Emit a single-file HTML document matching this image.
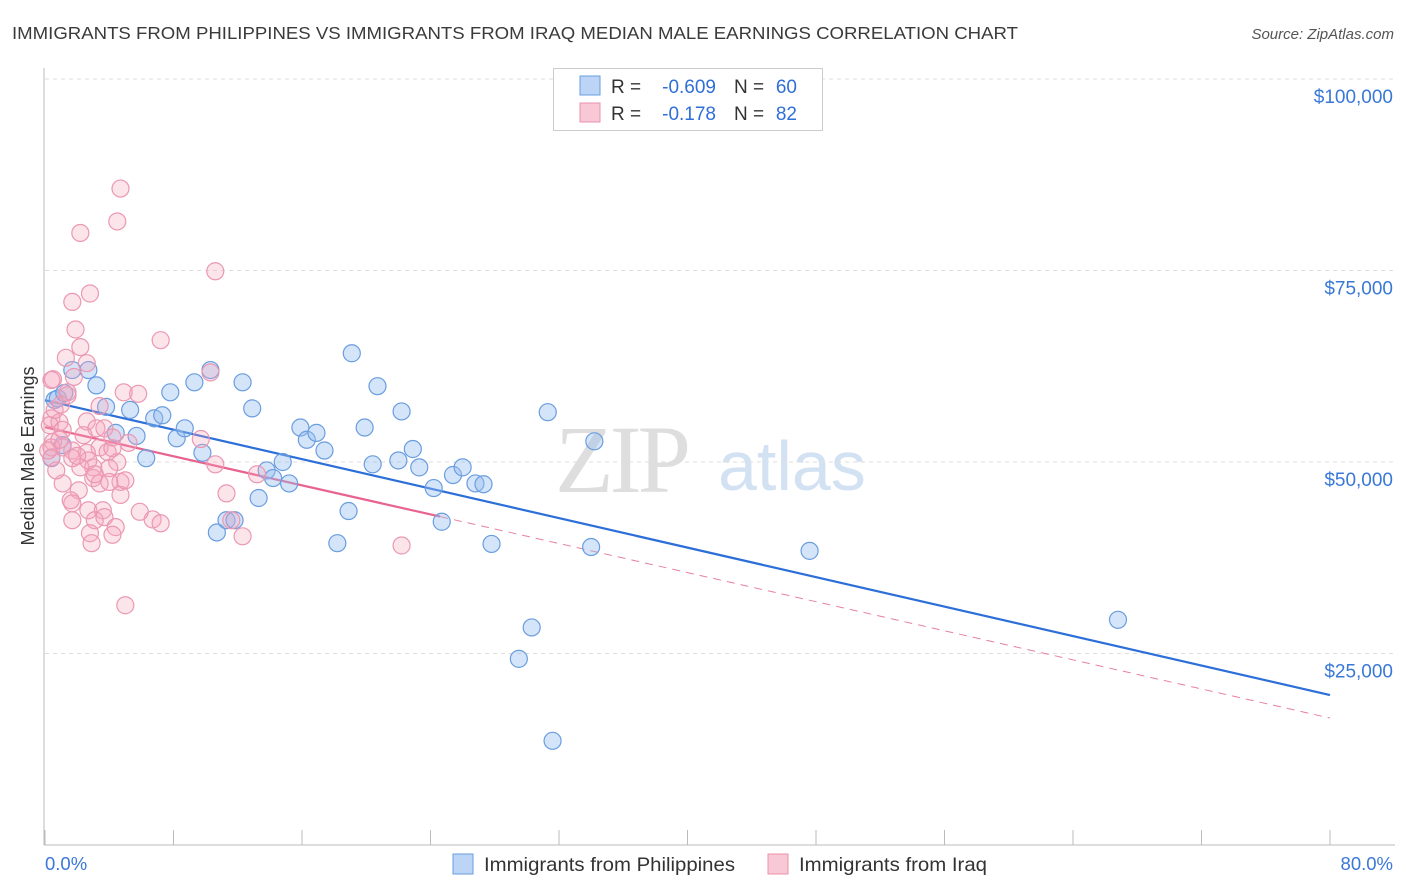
<!DOCTYPE html>
<html><head><meta charset="utf-8">
<style>
body{margin:0;background:#fff;font-family:"Liberation Sans",sans-serif;}
#wrap{position:relative;width:1406px;height:892px;overflow:hidden;}
</style></head>
<body><div id="wrap">
<svg id="svg" width="1406" height="892" xmlns="http://www.w3.org/2000/svg" font-family="Liberation Sans, sans-serif">
<text x="12" y="39" font-size="17.5" fill="#3a3a3a" textLength="1006" lengthAdjust="spacingAndGlyphs">IMMIGRANTS FROM PHILIPPINES VS IMMIGRANTS FROM IRAQ MEDIAN MALE EARNINGS CORRELATION CHART</text>
<text x="1394" y="39" font-size="15" fill="#555" font-style="italic" text-anchor="end">Source: ZipAtlas.com</text>
<text x="0" y="0" font-size="18" fill="#333" transform="translate(34,456) rotate(-90)" text-anchor="middle">Median Male Earnings</text>
<g>
<text x="555" y="492" font-size="96" fill="#dedede" font-family="Liberation Serif, serif" letter-spacing="-4">ZIP</text>
<text x="718" y="490" font-size="70" fill="#d3e2f3">atlas</text>
</g>
<g id="grid"></g><g id="axes"></g><g id="trend"></g><g id="pts"></g>
<g>
<rect x="553.5" y="68.5" width="269" height="62" fill="#fff" stroke="#ccc"/>
<rect x="580" y="76" width="20" height="19" fill="#bcd4f5" stroke="#6a9de0"/>
<rect x="580" y="103" width="20" height="19" fill="#f9c8d6" stroke="#e890aa"/>
<text x="611" y="93" font-size="19" fill="#333">R =</text>
<text x="716" y="93" font-size="19" fill="#2f6fd6" text-anchor="end">-0.609</text>
<text x="734" y="93" font-size="19" fill="#333">N =</text>
<text x="797" y="93" font-size="19" fill="#2f6fd6" text-anchor="end">60</text>
<text x="611" y="120" font-size="19" fill="#333">R =</text>
<text x="716" y="120" font-size="19" fill="#2f6fd6" text-anchor="end">-0.178</text>
<text x="734" y="120" font-size="19" fill="#333">N =</text>
<text x="797" y="120" font-size="19" fill="#2f6fd6" text-anchor="end">82</text>
</g>
<g>
<rect x="453" y="854" width="20" height="20" fill="#bcd4f5" stroke="#6a9de0"/>
<text x="484" y="871" font-size="19.5" fill="#333" textLength="251" lengthAdjust="spacingAndGlyphs">Immigrants from Philippines</text>
<rect x="768" y="854" width="20" height="20" fill="#f9c8d6" stroke="#e890aa"/>
<text x="799" y="871" font-size="19.5" fill="#333" textLength="188" lengthAdjust="spacingAndGlyphs">Immigrants from Iraq</text>
</g>
<text x="45" y="870" font-size="18.5" fill="#3a78d8">0.0%</text>
<text x="1393" y="870" font-size="18.5" fill="#3a78d8" text-anchor="end">80.0%</text>
</svg></div>
<script>
const yTicks=[25000,50000,75000,100000];
const yTickLabels=["$25,000","$50,000","$75,000","$100,000"];
const blueX=[0.4,0.6,0.8,1.2,1.7,2.7,3.2,3.8,5.3,4.4,5.7,6.3,6.8,7.3,7.8,8.2,8.7,9.3,9.8,10.3,10.7,11.3,11.8,12.3,12.9,13.3,13.8,14.2,14.8,15.2,15.9,16.3,16.9,17.4,18.2,18.9,19.1,19.9,20.4,20.7,22.0,22.2,22.9,23.3,24.2,24.7,25.4,26.0,26.8,27.3,27.8,29.5,30.3,31.3,31.6,34.0,34.2,47.6,66.8,1.1];
const blueY=[50.5,58.1,58.3,59.0,62.0,62.0,60.0,57.2,56.8,53.8,53.4,50.5,55.7,56.1,59.1,53.1,54.4,60.4,51.2,62.0,40.8,42.4,42.4,60.4,57.0,45.3,48.9,47.9,50.0,47.2,54.5,52.9,53.8,51.5,39.4,43.6,64.2,54.5,49.7,59.9,50.2,56.6,51.7,49.3,46.6,42.2,48.3,49.3,47.2,47.1,39.3,24.3,28.4,56.5,13.6,38.9,52.7,38.4,29.4,52.2];
const pinkX=[4.7,4.5,2.2,10.6,2.8,1.7,1.9,2.2,7.2,1.3,2.6,0.5,1.8,10.3,4.9,5.8,3.4,2.6,3.2,3.7,0.4,0.9,9.7,5.2,0.5,1.1,1.7,3.4,3.9,2.6,10.6,4.5,0.4,3.0,2.2,4.0,13.2,1.7,1.1,3.0,4.7,3.4,4.0,2.1,1.7,4.7,11.3,2.7,3.6,1.7,3.1,3.7,6.7,7.2,4.4,2.8,4.2,2.9,12.3,11.6,5.0,0.4,0.4,0.6,0.3,1.1,0.7,1.6,2.7,3.1,4.2,22.2,5.0,1.4,0.9,1.4,0.2,2.4,4.2,5.9,1.0,2.0];
const pinkY=[85.7,81.4,79.9,74.9,72.0,70.9,67.3,65.0,65.9,63.6,62.9,60.8,61.1,61.7,59.1,58.9,57.3,55.3,54.4,54.4,55.7,55.2,53.0,52.5,52.6,51.9,51.5,51.9,51.3,51.2,49.7,50.0,50.6,49.3,49.3,49.2,48.4,50.5,47.2,47.9,47.4,47.2,47.4,46.3,44.6,45.7,45.9,43.7,43.7,42.4,42.4,42.8,42.5,42.0,41.5,40.7,40.5,39.4,40.3,42.4,31.3,51.9,60.7,56.8,54.8,54.2,48.9,45.0,50.2,48.4,51.8,39.1,47.6,58.7,52.9,59.1,51.5,53.5,53.2,43.5,57.5,50.8];
const blueTrend=[58073,19575];
const pinkTrend=[54550,16574];
const pinkSolidEnd=24.6;
const xTicks=[0,8,16,24,32,40,48,56,64,72,80];

const NS="http://www.w3.org/2000/svg";
const X=v=>45+v*(1285/80);
const Y=v=>845-v*(766/100000);
function mk(tag,attrs,parent){const e=document.createElementNS(NS,tag);for(const k in attrs)e.setAttribute(k,attrs[k]);document.getElementById(parent).appendChild(e);return e;}
yTicks.forEach((t,i)=>{
  const l=mk('line',{x1:45,x2:1395,y1:Y(t),y2:Y(t),stroke:'#ddd','stroke-dasharray':'4,4'},'grid');
  
  
  const tx=mk('text',{x:1393,y:Y(t)+24,'font-size':19,fill:'#3a78d8','text-anchor':'end'},'grid');
  tx.textContent=yTickLabels[i];
  
  
});
const ya=mk('line',{x1:44,x2:44,y1:68,y2:845,stroke:'#bbb'},'axes');


const xa=mk('line',{x1:44,x2:1395,y1:845,y2:845,stroke:'#bbb'},'axes');


xTicks.forEach(t=>{
  const l=mk('line',{x1:X(t),x2:X(t),y1:830,y2:845,stroke:'#bbb'},'axes');
  
  
});
blueX.forEach((x,i)=>{
  const c=mk('circle',{cx:X(x),cy:Y(blueY[i]*1000),r:8.5,fill:'rgba(150,190,240,0.4)',stroke:'#6a9de0','stroke-width':1.2},'pts');
  
  
});
pinkX.forEach((x,i)=>{
  const c=mk('circle',{cx:X(x),cy:Y(pinkY[i]*1000),r:8.5,fill:'rgba(245,165,190,0.3)',stroke:'#eb98b2','stroke-width':1.2},'pts');
  
  
});
const pv=x=>pinkTrend[0]+(pinkTrend[1]-pinkTrend[0])*x/80;
const bt=mk('line',{x1:X(0),y1:Y(blueTrend[0]),x2:X(80),y2:Y(blueTrend[1]),stroke:'#2c6fd8','stroke-width':2.2},'trend');


const pt=mk('line',{x1:X(0),y1:Y(pv(0)),x2:X(pinkSolidEnd),y2:Y(pv(pinkSolidEnd)),stroke:'#e8648f','stroke-width':2.2},'trend');


const pd=mk('line',{x1:X(pinkSolidEnd),y1:Y(pv(pinkSolidEnd)),x2:X(80),y2:Y(pv(80)),stroke:'#e8809f','stroke-width':1,'stroke-dasharray':'8,6'},'trend');


</script>
</body></html>
